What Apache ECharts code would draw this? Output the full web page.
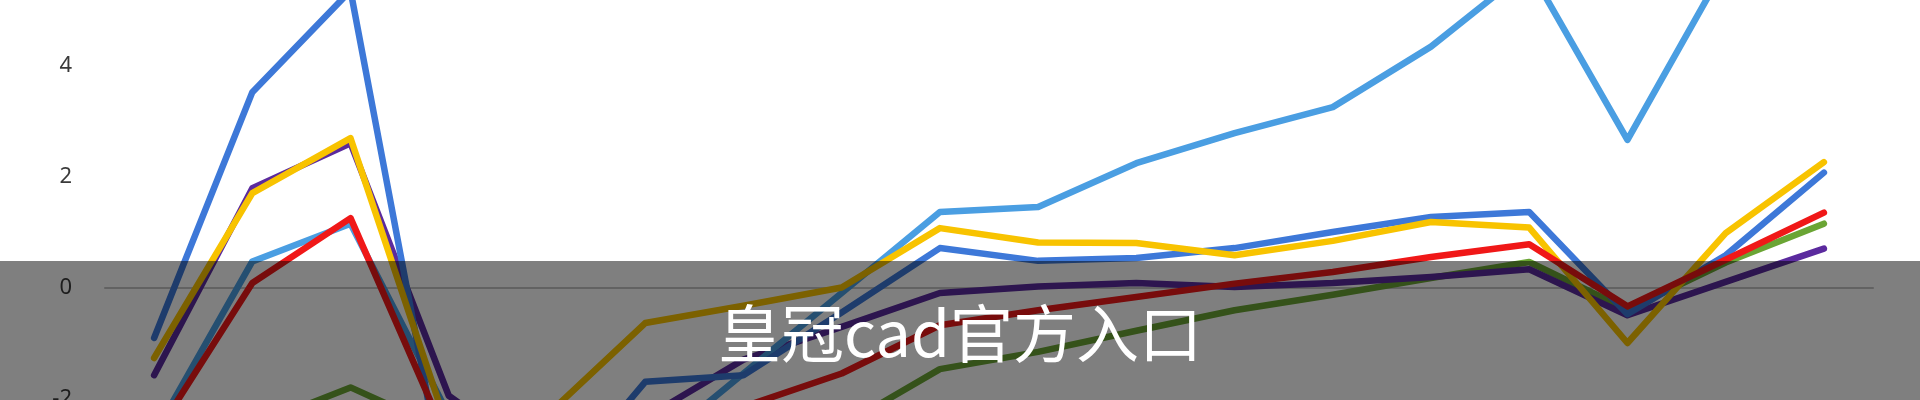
<!DOCTYPE html>
<html>
<head>
<meta charset="utf-8">
<style>
  html, body { margin: 0; padding: 0; background: #ffffff; }
  #chart { width: 1920px; height: 400px; }
</style>
<script src="https://cdn.jsdelivr.net/npm/echarts@6/dist/echarts.min.js"></script>
</head>
<body>
<div id="chart"></div>
<script>
// ---- data ----
const categories = ['1','2','3','4','5','6','7','8','9','10','11','12','13','14','15','16','17','18'];
const yTicks = [-4, -2, 0, 2, 4, 6];
const seriesNames = ['绿色', '紫色', '浅蓝', '深蓝', '黄色', '红色'];
const greenValues  = [-3.2, -2.5, -1.8, -2.6, -3.0, -3.1, -2.9, -2.5, -1.47, -1.16, -0.78, -0.41, -0.13, 0.17, 0.46, -0.4, 0.45, 1.15];
const purpleValues = [-1.58, 1.79, 2.6, -1.95, -3.2, -2.35, -1.3, -0.71, -0.1, 0.02, 0.08, 0.01, 0.08, 0.19, 0.33, -0.5, 0.1, 0.7];
const lightBlueValues = [-2.65, 0.47, 1.15, -2.3, -3.3, -3.0, -1.55, -0.1, 1.36, 1.45, 2.24, 2.78, 3.25, 4.34, 5.75, 2.66, 5.8, 6.3];
const darkBlueValues  = [-0.91, 3.52, 5.35, -4.0, -3.8, -1.70, -1.58, -0.45, 0.71, 0.48, 0.53, 0.71, 1.0, 1.27, 1.36, -0.48, 0.58, 2.07];
const yellowValues = [-1.27, 1.70, 2.69, -2.6, -2.3, -0.64, -0.33, 0.0, 1.07, 0.81, 0.80, 0.58, 0.84, 1.18, 1.08, -1.0, 0.98, 2.26];
const redValues    = [-2.7, 0.08, 1.25, -2.8, -3.0, -2.6, -2.15, -1.55, -0.68, -0.41, -0.17, 0.07, 0.28, 0.55, 0.78, -0.34, 0.5, 1.35];
const captionText = '皇冠cad官方入口';

// ---- styles ----
const colors = ['#6aa534', '#5b2a9e', '#4a9ee2', '#3d78d8', '#f8c300', '#f01818'];
const allValues = [greenValues, purpleValues, lightBlueValues, darkBlueValues, yellowValues, redValues];

const chart = echarts.init(document.getElementById('chart'), null, { renderer: 'canvas' });

const series = allValues.map((vals, i) => ({
  name: seriesNames[i],
  type: 'line',
  data: vals,
  symbol: 'none',
  smooth: false,
  clip: false,
  z: 2 + i,
  lineStyle: { color: colors[i], width: 6.5, cap: 'round', join: 'round' },
  itemStyle: { color: colors[i] },
  emphasis: { disabled: true }
}));

chart.setOption({
  animation: false,
  backgroundColor: '#ffffff',
  grid: {
    left: 105,
    right: 47,
    top: -45.5,
    bottom: -109.5,
    containLabel: false,
    outerBoundsMode: 'none'
  },
  xAxis: {
    type: 'category',
    data: categories,
    boundaryGap: true,
    axisLine: { show: true, onZero: true, lineStyle: { color: '#c4c4c4', width: 2 } },
    axisTick: { show: false },
    axisLabel: { show: false },
    splitLine: { show: false }
  },
  yAxis: {
    type: 'value',
    min: yTicks[0],
    max: yTicks[yTicks.length - 1],
    interval: 2,
    axisLine: { show: false },
    axisTick: { show: false },
    splitLine: { show: false },
    axisLabel: {
      margin: 33,
      color: '#3a3a3a',
      fontSize: 22,
      fontFamily: 'Noto Sans, sans-serif'
    }
  },
  series: series,
  graphic: [
    {
      type: 'rect',
      z: 100,
      shape: { x: 0, y: 261, width: 1920, height: 139 },
      style: { fill: 'rgba(0,0,0,0.5)' },
      silent: true
    },
    {
      type: 'text',
      z: 101,
      style: {
        text: captionText,
        x: 960,
        y: 333,
        align: 'center',
        verticalAlign: 'middle',
        fill: '#ffffff',
        fontSize: 63,
        fontFamily: '"Noto Sans CJK SC", sans-serif'
      },
      silent: true
    }
  ]
});
</script>
</body>
</html>
